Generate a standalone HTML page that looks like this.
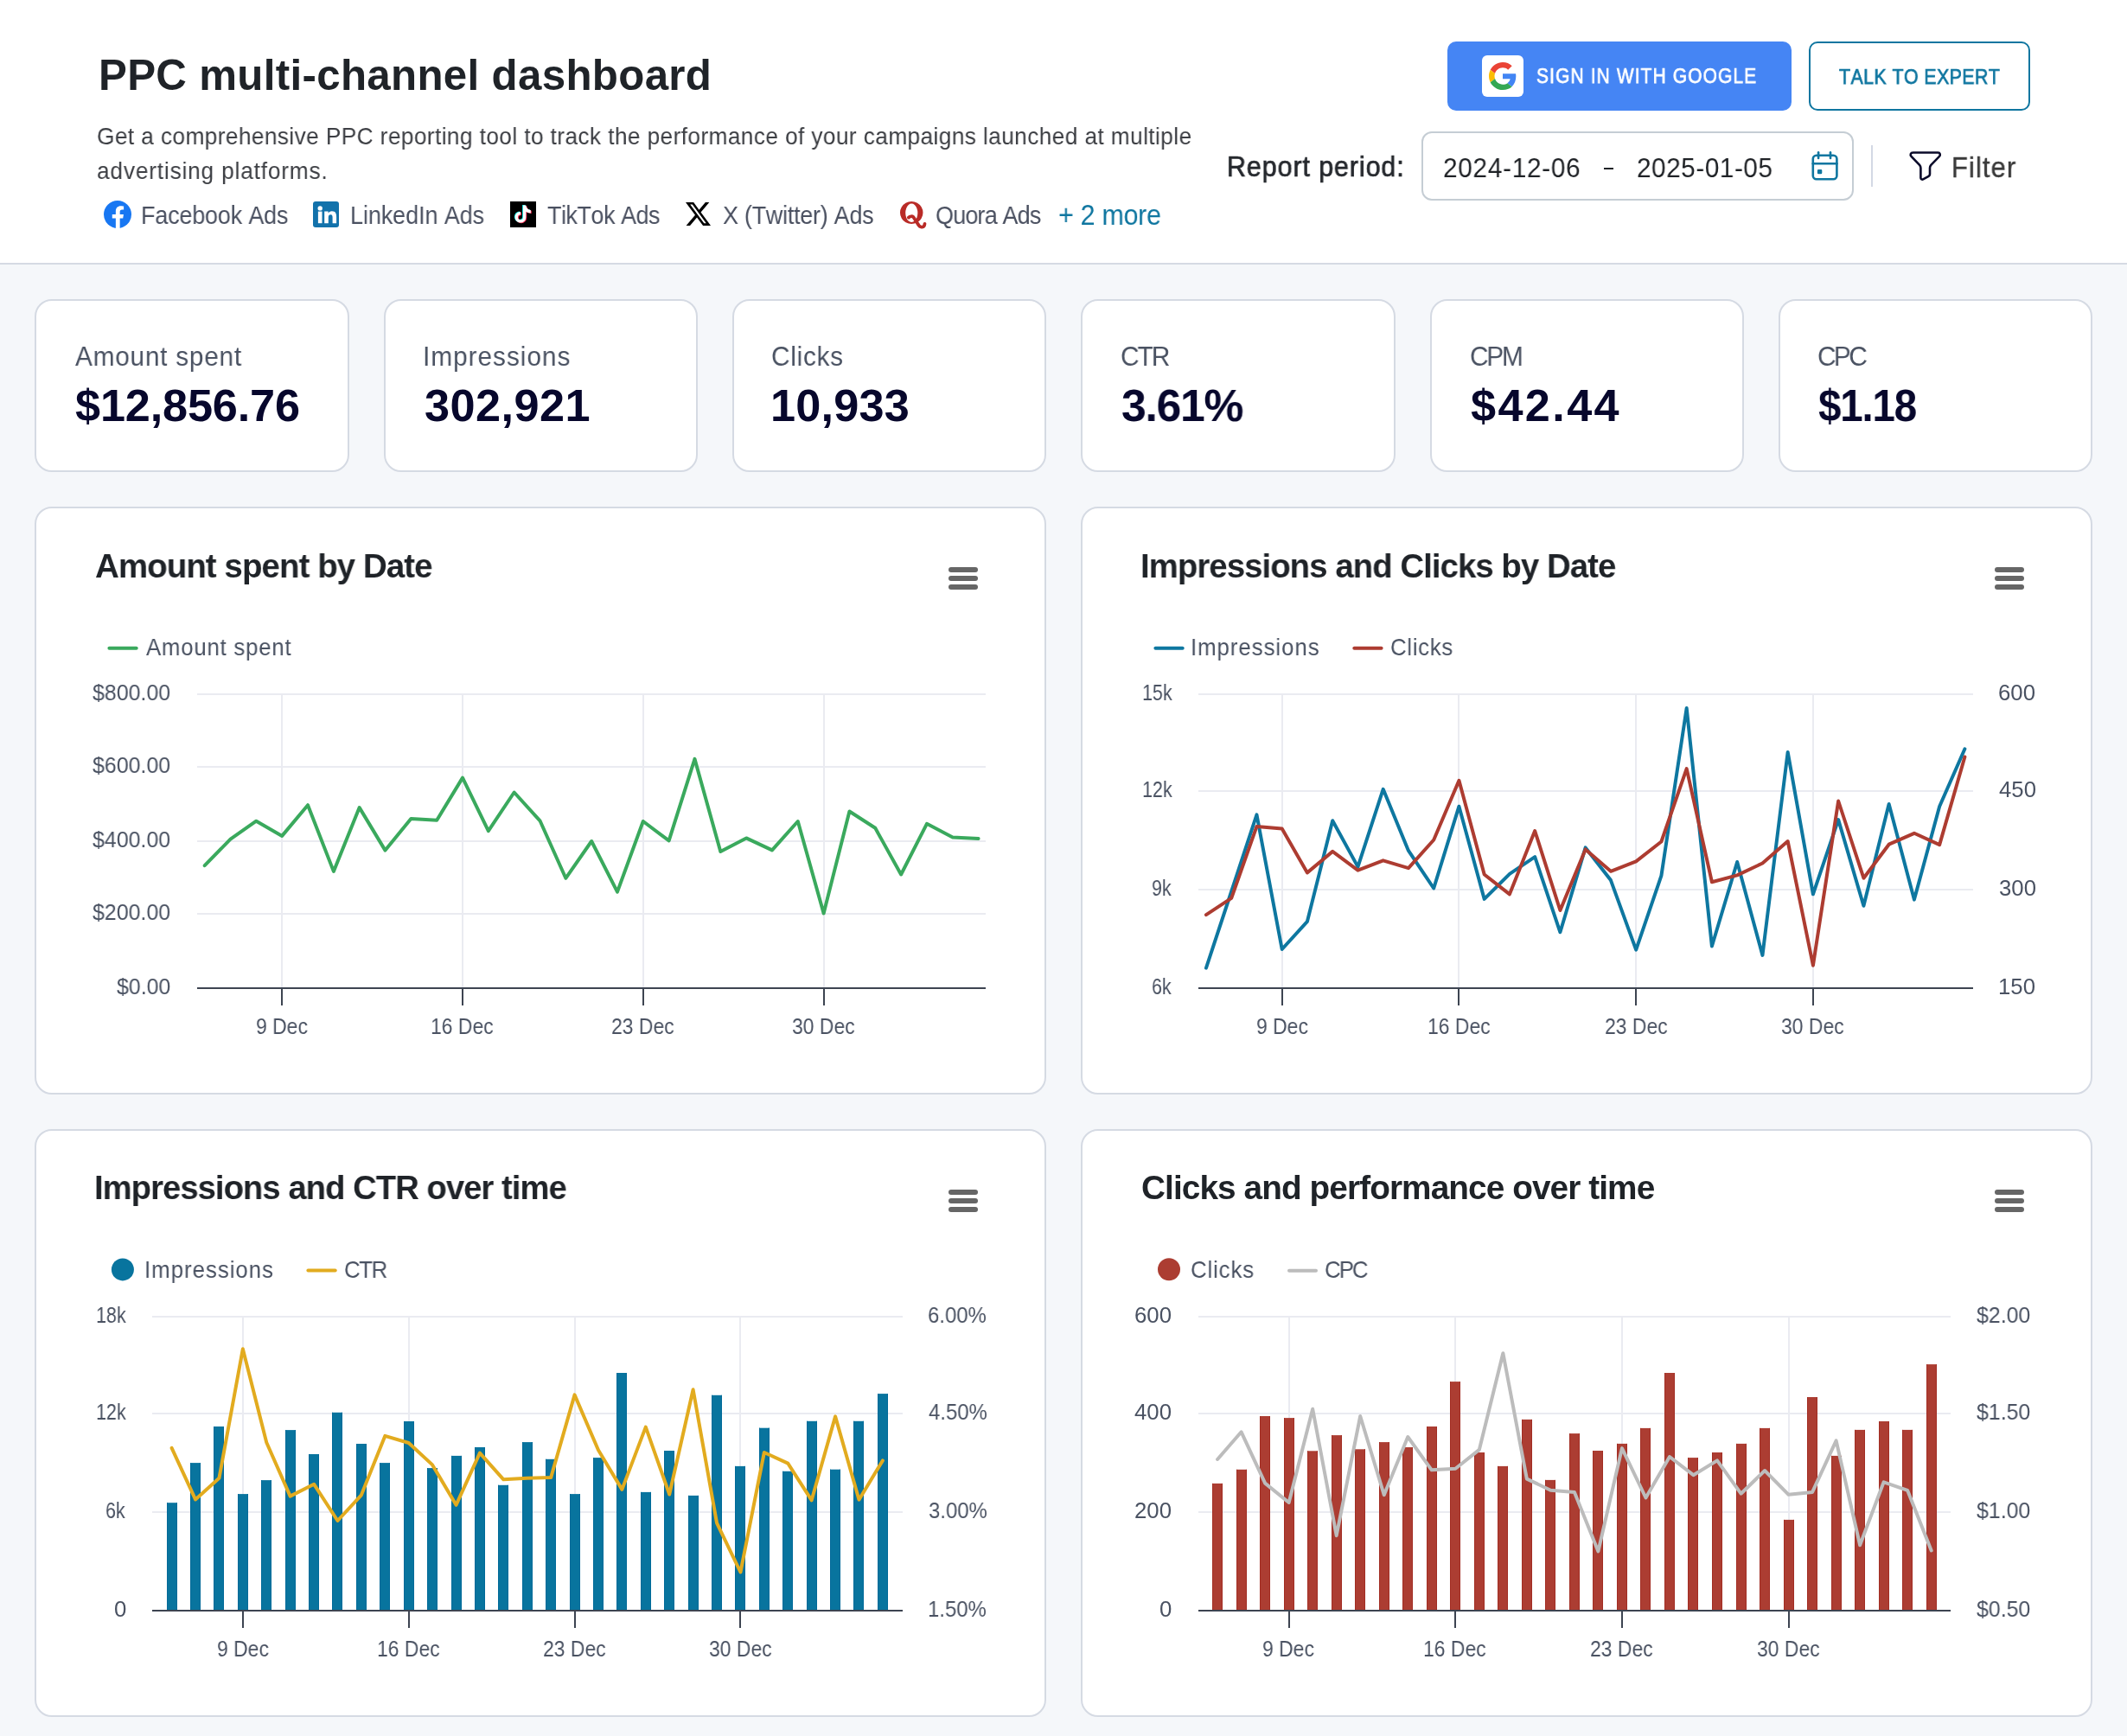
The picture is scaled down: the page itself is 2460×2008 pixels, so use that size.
<!DOCTYPE html>
<html><head><meta charset="utf-8"><title>PPC multi-channel dashboard</title>
<style>
html,body{margin:0;padding:0;}
body{width:2460px;height:2008px;overflow:hidden;background:#f5f7fa;position:relative;font-family:"Liberation Sans",sans-serif;}
.t{position:absolute;white-space:pre;will-change:transform;font-family:"Liberation Sans",sans-serif;font-kerning:none;}
.hdr{position:absolute;left:0;top:0;width:2460px;height:304px;background:#fff;border-bottom:2px solid #d5dae3;}
.card{position:absolute;background:#fff;border:2px solid #d5dae3;border-radius:20px;box-sizing:border-box;}
.abs{position:absolute;}
@media (max-width:1500px){body{zoom:0.5;}}
</style></head>
<body>
<div class="hdr"></div>
<!-- KPI cards -->
<div class="card" style="left:40px;top:346px;width:364px;height:200px"></div>
<div class="card" style="left:444px;top:346px;width:363px;height:200px"></div>
<div class="card" style="left:847px;top:346px;width:363px;height:200px"></div>
<div class="card" style="left:1250px;top:346px;width:364px;height:200px"></div>
<div class="card" style="left:1654px;top:346px;width:363px;height:200px"></div>
<div class="card" style="left:2057px;top:346px;width:363px;height:200px"></div>
<!-- chart cards -->
<div class="card" style="left:40px;top:586px;width:1170px;height:680px"></div>
<div class="card" style="left:1250px;top:586px;width:1170px;height:680px"></div>
<div class="card" style="left:40px;top:1306px;width:1170px;height:680px"></div>
<div class="card" style="left:1250px;top:1306px;width:1170px;height:680px"></div>

<!-- buttons -->
<div class="abs" style="left:1674px;top:48px;width:398px;height:80px;background:#4585f4;border-radius:10px"></div>
<div class="abs" style="left:1714px;top:64px;width:48px;height:48px;background:#fff;border-radius:6px"></div>
<svg class="abs" style="left:1722px;top:72px" width="32" height="32" viewBox="0 0 48 48">
<path fill="#EA4335" d="M24 9.5c3.54 0 6.71 1.22 9.21 3.6l6.85-6.85C35.9 2.38 30.47 0 24 0 14.62 0 6.51 5.38 2.56 13.22l7.98 6.19C12.43 13.72 17.74 9.5 24 9.5z"/>
<path fill="#4285F4" d="M46.98 24.55c0-1.570-.15-3.09-.38-4.55H24v9.02h12.94c-.58 2.96-2.26 5.480-4.78 7.18l7.73 6c4.51-4.18 7.09-10.36 7.09-17.65z"/>
<path fill="#FBBC05" d="M10.53 28.59c-.48-1.45-.76-2.99-.76-4.59s.27-3.14.76-4.59l-7.98-6.19C.92 16.46 0 20.12 0 24c0 3.88.92 7.54 2.56 10.78l7.97-6.19z"/>
<path fill="#34A853" d="M24 48c6.48 0 11.930-2.13 15.89-5.81l-7.73-6c-2.15 1.45-4.92 2.3-8.16 2.3-6.26 0-11.57-4.22-13.47-9.91l-7.98 6.190C6.51 42.62 14.62 48 24 48z"/>
</svg>
<div class="abs" style="left:2092px;top:48px;width:256px;height:80px;border:2px solid #0f76a0;border-radius:10px;box-sizing:border-box"></div>
<!-- date box -->
<div class="abs" style="left:1644px;top:152px;width:500px;height:80px;border:2px solid #c5cdd4;border-radius:12px;box-sizing:border-box;background:#fff"></div>
<div class="abs" style="left:1855px;top:193.5px;width:11px;height:2px;background:#1f2226"></div>
<svg class="abs" style="left:2094px;top:174px" width="34" height="36" viewBox="0 0 34 36" fill="none" stroke="#0f76a0" stroke-width="2.6" stroke-linecap="round">
<rect x="2.8" y="5.8" width="27.6" height="27.4" rx="4"/>
<line x1="2.8" y1="15.3" x2="30.4" y2="15.3"/>
<line x1="9.1" y1="2.3" x2="9.1" y2="9"/>
<line x1="23" y1="2.3" x2="23" y2="9"/>
<rect x="8.6" y="22.6" width="4" height="4" fill="#0f76a0" stroke-width="1.4" rx="0.6"/>
</svg>
<div class="abs" style="left:2164px;top:168px;width:2px;height:48px;background:#d3d8e4"></div>
<svg class="abs" style="left:2204px;top:171px" width="44" height="42" viewBox="0 0 44 42" fill="none" stroke="#0b0b2a" stroke-width="2.6" stroke-linejoin="round">
<path d="M8.5 5.5 H37.5 C39.8 5.5 40.6 8.2 39 9.8 L29.3 19.9 C28.3 21 28 21.7 28 23.2 V30.6 C28 31.7 27.5 32.3 26.6 32.8 L20.2 36.4 C19 37 17.4 36.2 17.4 34.8 V23.2 C17.4 21.7 17.1 21 16.1 19.9 L6.5 9.8 C4.9 8.2 5.7 5.5 8.5 5.5 Z"/>
</svg>

<!-- platform icons -->
<svg class="abs" style="left:120px;top:232px" width="32" height="32" viewBox="0 0 36 36">
<circle cx="18" cy="18" r="18" fill="#1877f2"/>
<path d="M25 23.2l.8-5.2H21v-3.4c0-1.4.7-2.8 2.9-2.8H26V7.4S24.1 7 22.2 7c-4 0-6.6 2.4-6.6 6.8V18H11v5.2h4.6V36h5.4V23.2z" fill="#fff"/>
</svg>
<svg class="abs" style="left:362px;top:233px" width="30" height="30" viewBox="0 0 30 30">
<rect width="30" height="30" rx="3" fill="#1272ab"/>
<circle cx="8.2" cy="7.9" r="2.7" fill="#fff"/>
<rect x="5.9" y="11.6" width="4.6" height="13.6" fill="#fff"/>
<path d="M13.2 11.6h4.4v1.9c.7-1.2 2.2-2.3 4.3-2.3 4.4 0 5.2 2.9 5.2 6.7v7.3h-4.5v-6.4c0-1.6-.1-3.5-2.2-3.5-2.2 0-2.6 1.7-2.6 3.4v6.5h-4.6z" fill="#fff"/>
</svg>
<svg class="abs" style="left:590px;top:233px" width="30" height="30" viewBox="0 0 30 30">
<rect width="30" height="30" fill="#000"/>
<g transform="translate(-0.9,-0.6)"><path d="M15 4.6H18.3C18.6 7.6 20.6 9.8 23.8 10.1V13.4C21.8 13.4 19.8 12.8 18.3 11.7V18.3A6.3 6.3 0 1 1 12 12V15.3A3 3 0 1 0 15 18.3Z" fill="#25f4ee"/></g>
<g transform="translate(0.9,0.6)"><path d="M15 4.6H18.3C18.6 7.6 20.6 9.8 23.8 10.1V13.4C21.8 13.4 19.8 12.8 18.3 11.7V18.3A6.3 6.3 0 1 1 12 12V15.3A3 3 0 1 0 15 18.3Z" fill="#fe2c55"/></g>
<path d="M15 4.6H18.3C18.6 7.6 20.6 9.8 23.8 10.1V13.4C21.8 13.4 19.8 12.8 18.3 11.7V18.3A6.3 6.3 0 1 1 12 12V15.3A3 3 0 1 0 15 18.3Z" fill="#fff"/>
</svg>
<svg class="abs" style="left:792.7px;top:234px" width="29" height="27" viewBox="1.254 2.25 21.56 19.5" preserveAspectRatio="none">
<path d="M18.244 2.25h3.308l-7.227 8.26 8.502 11.24H16.17l-5.214-6.817L4.99 21.75H1.68l7.73-8.835L1.254 2.25H8.08l4.713 6.231zm-1.161 17.52h1.833L7.084 4.126H5.117z" fill="#000"/>
</svg>
<svg class="abs" style="left:1034px;top:226px" width="44" height="42" viewBox="0 0 44 42">
<path fill-rule="evenodd" fill="#b92b27" d="M20.25 7 A13.25 12.95 0 1 1 20.2 7 Z M20.25 9.6 A7.05 10.7 0 1 0 20.3 9.6 Z"/>
<path d="M16.9 25.6 C18.4 24 21 23.8 22.5 25.2 L28.6 34.6 C30 36.6 32.4 37.1 34 36.1 C35 35.4 35.4 34.2 35.5 32.8" fill="none" stroke="#b92b27" stroke-width="3.8" stroke-linecap="round" stroke-linejoin="round"/>
</svg>

<div class="t" style="left:113.61px;top:62.08px;font-size:49.25px;line-height:49.25px;letter-spacing:0.323px;font-weight:bold;color:#1f2328;">PPC multi-channel dashboard</div>
<div class="t" style="left:111.88px;top:142.68px;font-size:28.25px;line-height:28.25px;letter-spacing:0.419px;font-weight:normal;color:#3d3f44;transform:scaleX(0.9300);transform-origin:0 0;">Get a comprehensive PPC reporting tool to track the performance of your campaigns launched at multiple</div>
<div class="t" style="left:112.08px;top:182.57px;font-size:28.25px;line-height:28.25px;letter-spacing:0.872px;font-weight:normal;color:#3d3f44;transform:scaleX(0.9300);transform-origin:0 0;">advertising platforms.</div>
<div class="t" style="left:163.19px;top:234.60px;font-size:29.00px;line-height:29.00px;letter-spacing:-0.198px;font-weight:normal;color:#4a5060;transform:scaleX(0.9300);transform-origin:0 0;">Facebook Ads</div>
<div class="t" style="left:405.19px;top:234.60px;font-size:29.00px;line-height:29.00px;letter-spacing:-0.083px;font-weight:normal;color:#4a5060;transform:scaleX(0.9300);transform-origin:0 0;">LinkedIn Ads</div>
<div class="t" style="left:632.79px;top:234.60px;font-size:29.00px;line-height:29.00px;letter-spacing:-0.525px;font-weight:normal;color:#4a5060;transform:scaleX(0.9300);transform-origin:0 0;">TikTok Ads</div>
<div class="t" style="left:835.59px;top:234.60px;font-size:29.00px;line-height:29.00px;letter-spacing:-0.287px;font-weight:normal;color:#4a5060;transform:scaleX(0.9300);transform-origin:0 0;">X (Twitter) Ads</div>
<div class="t" style="left:1081.72px;top:234.60px;font-size:29.00px;line-height:29.00px;letter-spacing:-0.897px;font-weight:normal;color:#4a5060;transform:scaleX(0.9300);transform-origin:0 0;">Quora Ads</div>
<div class="t" style="left:1223.81px;top:233.12px;font-size:32.75px;line-height:32.75px;letter-spacing:-0.323px;font-weight:normal;color:#0f76a0;transform:scaleX(0.9300);transform-origin:0 0;">+ 2 more</div>
<div class="t" style="left:1777.05px;top:76.28px;font-size:24.25px;line-height:24.25px;letter-spacing:1.372px;font-weight:normal;color:#ffffff;transform:scaleX(0.8600);transform-origin:0 0;-webkit-text-stroke:0.75px #ffffff;">SIGN IN WITH GOOGLE</div>
<div class="t" style="left:2126.62px;top:76.72px;font-size:24.75px;line-height:24.75px;letter-spacing:0.544px;font-weight:normal;color:#0f76a0;transform:scaleX(0.8600);transform-origin:0 0;-webkit-text-stroke:0.75px #0f76a0;">TALK TO EXPERT</div>
<div class="t" style="left:1419.10px;top:177.03px;font-size:32.75px;line-height:32.75px;letter-spacing:0.966px;font-weight:normal;color:#25282d;transform:scaleX(0.9300);transform-origin:0 0;-webkit-text-stroke:0.7px #25282d;">Report period:</div>
<div class="t" style="left:1669.30px;top:177.90px;font-size:32.00px;line-height:32.00px;letter-spacing:0.762px;font-weight:normal;color:#1f2226;transform:scaleX(0.9300);transform-origin:0 0;">2024-12-06</div>
<div class="t" style="left:1893.20px;top:177.90px;font-size:32.00px;line-height:32.00px;letter-spacing:0.564px;font-weight:normal;color:#1f2226;transform:scaleX(0.9300);transform-origin:0 0;">2025-01-05</div>
<div class="t" style="left:2257.36px;top:176.78px;font-size:33.25px;line-height:33.25px;letter-spacing:1.169px;font-weight:normal;color:#3a3a3a;transform:scaleX(0.9300);transform-origin:0 0;-webkit-text-stroke:0.4px #3a3a3a;">Filter</div>
<div class="t" style="left:86.84px;top:395.60px;font-size:32.00px;line-height:32.00px;letter-spacing:0.825px;font-weight:normal;color:#4a5262;transform:scaleX(0.9300);transform-origin:0 0;">Amount spent</div>
<div class="t" style="left:86.91px;top:443.07px;font-size:52.25px;line-height:52.25px;letter-spacing:-0.170px;font-weight:bold;color:#07072c;">$12,856.76</div>
<div class="t" style="left:489.05px;top:395.60px;font-size:32.00px;line-height:32.00px;letter-spacing:1.064px;font-weight:normal;color:#4a5262;transform:scaleX(0.9300);transform-origin:0 0;">Impressions</div>
<div class="t" style="left:490.60px;top:443.07px;font-size:52.25px;line-height:52.25px;letter-spacing:0.464px;font-weight:bold;color:#07072c;">302,921</div>
<div class="t" style="left:891.79px;top:395.60px;font-size:32.00px;line-height:32.00px;letter-spacing:0.781px;font-weight:normal;color:#4a5262;transform:scaleX(0.9300);transform-origin:0 0;">Clicks</div>
<div class="t" style="left:890.81px;top:443.07px;font-size:52.25px;line-height:52.25px;letter-spacing:0.214px;font-weight:bold;color:#07072c;">10,933</div>
<div class="t" style="left:1295.99px;top:395.60px;font-size:32.00px;line-height:32.00px;letter-spacing:-2.081px;font-weight:normal;color:#4a5262;transform:scaleX(0.9300);transform-origin:0 0;">CTR</div>
<div class="t" style="left:1297.11px;top:443.07px;font-size:52.25px;line-height:52.25px;letter-spacing:-1.306px;font-weight:bold;color:#07072c;transform:scaleX(0.9890);transform-origin:0 0;">3.61%</div>
<div class="t" style="left:1700.19px;top:395.60px;font-size:32.00px;line-height:32.00px;letter-spacing:-2.354px;font-weight:normal;color:#4a5262;transform:scaleX(0.9300);transform-origin:0 0;">CPM</div>
<div class="t" style="left:1701.01px;top:443.07px;font-size:52.25px;line-height:52.25px;letter-spacing:2.372px;font-weight:bold;color:#07072c;">$42.44</div>
<div class="t" style="left:2101.69px;top:395.60px;font-size:32.00px;line-height:32.00px;letter-spacing:-2.789px;font-weight:normal;color:#4a5262;transform:scaleX(0.9300);transform-origin:0 0;">CPC</div>
<div class="t" style="left:2103.37px;top:443.07px;font-size:52.25px;line-height:52.25px;letter-spacing:-1.306px;font-weight:bold;color:#07072c;transform:scaleX(0.9089);transform-origin:0 0;">$1.18</div>
<div class="t" style="left:110.24px;top:635.62px;font-size:38.75px;line-height:38.75px;letter-spacing:-0.969px;font-weight:bold;color:#1f2328;transform:scaleX(0.9941);transform-origin:0 0;">Amount spent by Date</div>
<div class="t" style="left:1318.63px;top:635.62px;font-size:38.75px;line-height:38.75px;letter-spacing:-0.969px;font-weight:bold;color:#1f2328;transform:scaleX(0.9906);transform-origin:0 0;">Impressions and Clicks by Date</div>
<div class="t" style="left:108.94px;top:1355.42px;font-size:38.75px;line-height:38.75px;letter-spacing:-0.969px;font-weight:bold;color:#1f2328;transform:scaleX(0.9864);transform-origin:0 0;">Impressions and CTR over time</div>
<div class="t" style="left:1319.51px;top:1355.42px;font-size:38.75px;line-height:38.75px;letter-spacing:-0.909px;font-weight:bold;color:#1f2328;">Clicks and performance over time</div>
<div class="t" style="left:169.15px;top:734.62px;font-size:27.75px;line-height:27.75px;letter-spacing:0.821px;font-weight:normal;color:#4a5262;transform:scaleX(0.9300);transform-origin:0 0;">Amount spent</div>
<div class="t" style="left:1377.12px;top:734.62px;font-size:27.75px;line-height:27.75px;letter-spacing:1.021px;font-weight:normal;color:#4a5262;transform:scaleX(0.9300);transform-origin:0 0;">Impressions</div>
<div class="t" style="left:1608.09px;top:734.62px;font-size:27.75px;line-height:27.75px;letter-spacing:0.737px;font-weight:normal;color:#4a5262;transform:scaleX(0.9300);transform-origin:0 0;">Clicks</div>
<div class="t" style="left:167.02px;top:1454.92px;font-size:27.75px;line-height:27.75px;letter-spacing:1.064px;font-weight:normal;color:#4a5262;transform:scaleX(0.9300);transform-origin:0 0;">Impressions</div>
<div class="t" style="left:397.89px;top:1454.92px;font-size:27.75px;line-height:27.75px;letter-spacing:-1.468px;font-weight:normal;color:#4a5262;transform:scaleX(0.9300);transform-origin:0 0;">CTR</div>
<div class="t" style="left:1377.49px;top:1454.92px;font-size:27.75px;line-height:27.75px;letter-spacing:0.909px;font-weight:normal;color:#4a5262;transform:scaleX(0.9300);transform-origin:0 0;">Clicks</div>
<div class="t" style="left:1532.49px;top:1454.92px;font-size:27.75px;line-height:27.75px;letter-spacing:-2.148px;font-weight:normal;color:#4a5262;transform:scaleX(0.9300);transform-origin:0 0;">CPC</div>
<div class="t" style="left:107.27px;top:788.92px;font-size:25.75px;line-height:25.75px;letter-spacing:0.000px;font-weight:normal;color:#4a5262;transform:scaleX(0.9680);transform-origin:0 0;">$800.00</div>
<div class="t" style="left:107.27px;top:872.92px;font-size:25.75px;line-height:25.75px;letter-spacing:0.000px;font-weight:normal;color:#4a5262;transform:scaleX(0.9680);transform-origin:0 0;">$600.00</div>
<div class="t" style="left:107.27px;top:958.92px;font-size:25.75px;line-height:25.75px;letter-spacing:0.000px;font-weight:normal;color:#4a5262;transform:scaleX(0.9680);transform-origin:0 0;">$400.00</div>
<div class="t" style="left:107.27px;top:1042.92px;font-size:25.75px;line-height:25.75px;letter-spacing:0.000px;font-weight:normal;color:#4a5262;transform:scaleX(0.9680);transform-origin:0 0;">$200.00</div>
<div class="t" style="left:135.00px;top:1128.92px;font-size:25.75px;line-height:25.75px;letter-spacing:0.000px;font-weight:normal;color:#4a5262;transform:scaleX(0.9680);transform-origin:0 0;">$0.00</div>
<div class="t" style="left:1320.54px;top:788.92px;font-size:25.75px;line-height:25.75px;letter-spacing:0.000px;font-weight:normal;color:#4a5262;transform:scaleX(0.8340);transform-origin:0 0;">15k</div>
<div class="t" style="left:1320.54px;top:900.92px;font-size:25.75px;line-height:25.75px;letter-spacing:0.000px;font-weight:normal;color:#4a5262;transform:scaleX(0.8340);transform-origin:0 0;">12k</div>
<div class="t" style="left:1332.49px;top:1014.92px;font-size:25.75px;line-height:25.75px;letter-spacing:0.000px;font-weight:normal;color:#4a5262;transform:scaleX(0.8340);transform-origin:0 0;">9k</div>
<div class="t" style="left:1332.49px;top:1128.92px;font-size:25.75px;line-height:25.75px;letter-spacing:0.000px;font-weight:normal;color:#4a5262;transform:scaleX(0.8340);transform-origin:0 0;">6k</div>
<div class="t" style="left:2311.29px;top:788.92px;font-size:25.75px;line-height:25.75px;letter-spacing:0.000px;font-weight:normal;color:#4a5262;">600</div>
<div class="t" style="left:2312.01px;top:900.92px;font-size:25.75px;line-height:25.75px;letter-spacing:0.000px;font-weight:normal;color:#4a5262;">450</div>
<div class="t" style="left:2311.62px;top:1014.92px;font-size:25.75px;line-height:25.75px;letter-spacing:0.000px;font-weight:normal;color:#4a5262;">300</div>
<div class="t" style="left:2310.64px;top:1128.92px;font-size:25.75px;line-height:25.75px;letter-spacing:0.000px;font-weight:normal;color:#4a5262;">150</div>
<div class="t" style="left:110.54px;top:1508.92px;font-size:25.75px;line-height:25.75px;letter-spacing:0.000px;font-weight:normal;color:#4a5262;transform:scaleX(0.8340);transform-origin:0 0;">18k</div>
<div class="t" style="left:110.54px;top:1620.92px;font-size:25.75px;line-height:25.75px;letter-spacing:0.000px;font-weight:normal;color:#4a5262;transform:scaleX(0.8340);transform-origin:0 0;">12k</div>
<div class="t" style="left:122.49px;top:1734.92px;font-size:25.75px;line-height:25.75px;letter-spacing:0.000px;font-weight:normal;color:#4a5262;transform:scaleX(0.8340);transform-origin:0 0;">6k</div>
<div class="t" style="left:131.88px;top:1848.92px;font-size:25.75px;line-height:25.75px;letter-spacing:0.000px;font-weight:normal;color:#4a5262;">0</div>
<div class="t" style="left:1073.38px;top:1508.92px;font-size:25.75px;line-height:25.75px;letter-spacing:-0.000px;font-weight:normal;color:#4a5262;transform:scaleX(0.9300);transform-origin:0 0;">6.00%</div>
<div class="t" style="left:1074.05px;top:1620.92px;font-size:25.75px;line-height:25.75px;letter-spacing:0.000px;font-weight:normal;color:#4a5262;transform:scaleX(0.9300);transform-origin:0 0;">4.50%</div>
<div class="t" style="left:1073.69px;top:1734.92px;font-size:25.75px;line-height:25.75px;letter-spacing:0.000px;font-weight:normal;color:#4a5262;transform:scaleX(0.9300);transform-origin:0 0;">3.00%</div>
<div class="t" style="left:1072.78px;top:1848.92px;font-size:25.75px;line-height:25.75px;letter-spacing:-0.000px;font-weight:normal;color:#4a5262;transform:scaleX(0.9300);transform-origin:0 0;">1.50%</div>
<div class="t" style="left:1312.44px;top:1508.92px;font-size:25.75px;line-height:25.75px;letter-spacing:0.000px;font-weight:normal;color:#4a5262;">600</div>
<div class="t" style="left:1312.44px;top:1620.92px;font-size:25.75px;line-height:25.75px;letter-spacing:0.000px;font-weight:normal;color:#4a5262;">400</div>
<div class="t" style="left:1312.44px;top:1734.92px;font-size:25.75px;line-height:25.75px;letter-spacing:0.000px;font-weight:normal;color:#4a5262;">200</div>
<div class="t" style="left:1341.08px;top:1848.92px;font-size:25.75px;line-height:25.75px;letter-spacing:0.000px;font-weight:normal;color:#4a5262;">0</div>
<div class="t" style="left:2286.43px;top:1508.92px;font-size:25.75px;line-height:25.75px;letter-spacing:0.000px;font-weight:normal;color:#4a5262;transform:scaleX(0.9680);transform-origin:0 0;">$2.00</div>
<div class="t" style="left:2286.43px;top:1620.92px;font-size:25.75px;line-height:25.75px;letter-spacing:0.000px;font-weight:normal;color:#4a5262;transform:scaleX(0.9680);transform-origin:0 0;">$1.50</div>
<div class="t" style="left:2286.43px;top:1734.92px;font-size:25.75px;line-height:25.75px;letter-spacing:0.000px;font-weight:normal;color:#4a5262;transform:scaleX(0.9680);transform-origin:0 0;">$1.00</div>
<div class="t" style="left:2286.43px;top:1848.92px;font-size:25.75px;line-height:25.75px;letter-spacing:0.000px;font-weight:normal;color:#4a5262;transform:scaleX(0.9680);transform-origin:0 0;">$0.50</div>
<div class="t" style="left:296.02px;top:1175.03px;font-size:25.75px;line-height:25.75px;letter-spacing:0.000px;font-weight:normal;color:#4a5262;transform:scaleX(0.8900);transform-origin:0 0;">9 Dec</div>
<div class="t" style="left:498.12px;top:1175.03px;font-size:25.75px;line-height:25.75px;letter-spacing:-0.000px;font-weight:normal;color:#4a5262;transform:scaleX(0.8900);transform-origin:0 0;">16 Dec</div>
<div class="t" style="left:707.23px;top:1175.03px;font-size:25.75px;line-height:25.75px;letter-spacing:0.000px;font-weight:normal;color:#4a5262;transform:scaleX(0.8900);transform-origin:0 0;">23 Dec</div>
<div class="t" style="left:916.18px;top:1175.03px;font-size:25.75px;line-height:25.75px;letter-spacing:0.000px;font-weight:normal;color:#4a5262;transform:scaleX(0.8900);transform-origin:0 0;">30 Dec</div>
<div class="t" style="left:1452.54px;top:1175.03px;font-size:25.75px;line-height:25.75px;letter-spacing:0.000px;font-weight:normal;color:#4a5262;transform:scaleX(0.8900);transform-origin:0 0;">9 Dec</div>
<div class="t" style="left:1650.56px;top:1175.03px;font-size:25.75px;line-height:25.75px;letter-spacing:-0.000px;font-weight:normal;color:#4a5262;transform:scaleX(0.8900);transform-origin:0 0;">16 Dec</div>
<div class="t" style="left:1855.60px;top:1175.03px;font-size:25.75px;line-height:25.75px;letter-spacing:-0.000px;font-weight:normal;color:#4a5262;transform:scaleX(0.8900);transform-origin:0 0;">23 Dec</div>
<div class="t" style="left:2060.47px;top:1175.03px;font-size:25.75px;line-height:25.75px;letter-spacing:0.000px;font-weight:normal;color:#4a5262;transform:scaleX(0.8900);transform-origin:0 0;">30 Dec</div>
<div class="t" style="left:250.66px;top:1894.72px;font-size:25.75px;line-height:25.75px;letter-spacing:0.000px;font-weight:normal;color:#4a5262;transform:scaleX(0.8900);transform-origin:0 0;">9 Dec</div>
<div class="t" style="left:435.82px;top:1894.72px;font-size:25.75px;line-height:25.75px;letter-spacing:0.000px;font-weight:normal;color:#4a5262;transform:scaleX(0.8900);transform-origin:0 0;">16 Dec</div>
<div class="t" style="left:627.99px;top:1894.72px;font-size:25.75px;line-height:25.75px;letter-spacing:0.000px;font-weight:normal;color:#4a5262;transform:scaleX(0.8900);transform-origin:0 0;">23 Dec</div>
<div class="t" style="left:820.00px;top:1894.72px;font-size:25.75px;line-height:25.75px;letter-spacing:0.000px;font-weight:normal;color:#4a5262;transform:scaleX(0.8900);transform-origin:0 0;">30 Dec</div>
<div class="t" style="left:1460.49px;top:1894.72px;font-size:25.75px;line-height:25.75px;letter-spacing:0.000px;font-weight:normal;color:#4a5262;transform:scaleX(0.8900);transform-origin:0 0;">9 Dec</div>
<div class="t" style="left:1646.42px;top:1894.72px;font-size:25.75px;line-height:25.75px;letter-spacing:-0.000px;font-weight:normal;color:#4a5262;transform:scaleX(0.8900);transform-origin:0 0;">16 Dec</div>
<div class="t" style="left:1839.36px;top:1894.72px;font-size:25.75px;line-height:25.75px;letter-spacing:-0.000px;font-weight:normal;color:#4a5262;transform:scaleX(0.8900);transform-origin:0 0;">23 Dec</div>
<div class="t" style="left:2032.14px;top:1894.72px;font-size:25.75px;line-height:25.75px;letter-spacing:-0.000px;font-weight:normal;color:#4a5262;transform:scaleX(0.8900);transform-origin:0 0;">30 Dec</div>
<svg class="abs" style="left:0;top:0" width="2460" height="2008" viewBox="0 0 2460 2008">
<line x1="228.0" y1="803.00" x2="1140.0" y2="803.00" stroke="#eaebf1" stroke-width="2"/>
<line x1="228.0" y1="887.00" x2="1140.0" y2="887.00" stroke="#eaebf1" stroke-width="2"/>
<line x1="228.0" y1="973.00" x2="1140.0" y2="973.00" stroke="#eaebf1" stroke-width="2"/>
<line x1="228.0" y1="1057.00" x2="1140.0" y2="1057.00" stroke="#eaebf1" stroke-width="2"/>
<line x1="326.00" y1="803.00" x2="326.00" y2="1143.00" stroke="#eaebf1" stroke-width="2"/>
<line x1="535.00" y1="803.00" x2="535.00" y2="1143.00" stroke="#eaebf1" stroke-width="2"/>
<line x1="744.00" y1="803.00" x2="744.00" y2="1143.00" stroke="#eaebf1" stroke-width="2"/>
<line x1="953.00" y1="803.00" x2="953.00" y2="1143.00" stroke="#eaebf1" stroke-width="2"/>
<line x1="1386.0" y1="803.00" x2="2282.0" y2="803.00" stroke="#eaebf1" stroke-width="2"/>
<line x1="1386.0" y1="915.00" x2="2282.0" y2="915.00" stroke="#eaebf1" stroke-width="2"/>
<line x1="1386.0" y1="1029.00" x2="2282.0" y2="1029.00" stroke="#eaebf1" stroke-width="2"/>
<line x1="1483.00" y1="803.00" x2="1483.00" y2="1143.00" stroke="#eaebf1" stroke-width="2"/>
<line x1="1687.00" y1="803.00" x2="1687.00" y2="1143.00" stroke="#eaebf1" stroke-width="2"/>
<line x1="1892.00" y1="803.00" x2="1892.00" y2="1143.00" stroke="#eaebf1" stroke-width="2"/>
<line x1="2097.00" y1="803.00" x2="2097.00" y2="1143.00" stroke="#eaebf1" stroke-width="2"/>
<line x1="176.0" y1="1523.00" x2="1044.0" y2="1523.00" stroke="#eaebf1" stroke-width="2"/>
<line x1="176.0" y1="1635.00" x2="1044.0" y2="1635.00" stroke="#eaebf1" stroke-width="2"/>
<line x1="176.0" y1="1749.00" x2="1044.0" y2="1749.00" stroke="#eaebf1" stroke-width="2"/>
<line x1="281.00" y1="1523.00" x2="281.00" y2="1863.00" stroke="#eaebf1" stroke-width="2"/>
<line x1="473.00" y1="1523.00" x2="473.00" y2="1863.00" stroke="#eaebf1" stroke-width="2"/>
<line x1="665.00" y1="1523.00" x2="665.00" y2="1863.00" stroke="#eaebf1" stroke-width="2"/>
<line x1="856.00" y1="1523.00" x2="856.00" y2="1863.00" stroke="#eaebf1" stroke-width="2"/>
<line x1="1386.0" y1="1523.00" x2="2256.0" y2="1523.00" stroke="#eaebf1" stroke-width="2"/>
<line x1="1386.0" y1="1635.00" x2="2256.0" y2="1635.00" stroke="#eaebf1" stroke-width="2"/>
<line x1="1386.0" y1="1749.00" x2="2256.0" y2="1749.00" stroke="#eaebf1" stroke-width="2"/>
<line x1="1491.00" y1="1523.00" x2="1491.00" y2="1863.00" stroke="#eaebf1" stroke-width="2"/>
<line x1="1683.00" y1="1523.00" x2="1683.00" y2="1863.00" stroke="#eaebf1" stroke-width="2"/>
<line x1="1876.00" y1="1523.00" x2="1876.00" y2="1863.00" stroke="#eaebf1" stroke-width="2"/>
<line x1="2069.00" y1="1523.00" x2="2069.00" y2="1863.00" stroke="#eaebf1" stroke-width="2"/>
<rect x="193" y="1738.20" width="12" height="124.80" fill="#08749e"/>
<rect x="193" y="1738.20" width="1" height="124.80" fill="#016a99"/>
<rect x="204" y="1738.20" width="1" height="124.80" fill="#016a99"/>
<rect x="220" y="1692.10" width="12" height="170.90" fill="#08749e"/>
<rect x="220" y="1692.10" width="1" height="170.90" fill="#016a99"/>
<rect x="231" y="1692.10" width="1" height="170.90" fill="#016a99"/>
<rect x="247" y="1650.00" width="12" height="213.00" fill="#08749e"/>
<rect x="247" y="1650.00" width="1" height="213.00" fill="#016a99"/>
<rect x="258" y="1650.00" width="1" height="213.00" fill="#016a99"/>
<rect x="275" y="1728.10" width="12" height="134.90" fill="#08749e"/>
<rect x="275" y="1728.10" width="1" height="134.90" fill="#016a99"/>
<rect x="286" y="1728.10" width="1" height="134.90" fill="#016a99"/>
<rect x="302" y="1712.10" width="12" height="150.90" fill="#08749e"/>
<rect x="302" y="1712.10" width="1" height="150.90" fill="#016a99"/>
<rect x="313" y="1712.10" width="1" height="150.90" fill="#016a99"/>
<rect x="330" y="1654.10" width="12" height="208.90" fill="#08749e"/>
<rect x="330" y="1654.10" width="1" height="208.90" fill="#016a99"/>
<rect x="341" y="1654.10" width="1" height="208.90" fill="#016a99"/>
<rect x="357" y="1682.00" width="12" height="181.00" fill="#08749e"/>
<rect x="357" y="1682.00" width="1" height="181.00" fill="#016a99"/>
<rect x="368" y="1682.00" width="1" height="181.00" fill="#016a99"/>
<rect x="384" y="1633.80" width="12" height="229.20" fill="#08749e"/>
<rect x="384" y="1633.80" width="1" height="229.20" fill="#016a99"/>
<rect x="395" y="1633.80" width="1" height="229.20" fill="#016a99"/>
<rect x="412" y="1670.00" width="12" height="193.00" fill="#08749e"/>
<rect x="412" y="1670.00" width="1" height="193.00" fill="#016a99"/>
<rect x="423" y="1670.00" width="1" height="193.00" fill="#016a99"/>
<rect x="439" y="1692.10" width="12" height="170.90" fill="#08749e"/>
<rect x="439" y="1692.10" width="1" height="170.90" fill="#016a99"/>
<rect x="450" y="1692.10" width="1" height="170.90" fill="#016a99"/>
<rect x="467" y="1644.00" width="12" height="219.00" fill="#08749e"/>
<rect x="467" y="1644.00" width="1" height="219.00" fill="#016a99"/>
<rect x="478" y="1644.00" width="1" height="219.00" fill="#016a99"/>
<rect x="494" y="1698.10" width="12" height="164.90" fill="#08749e"/>
<rect x="494" y="1698.10" width="1" height="164.90" fill="#016a99"/>
<rect x="505" y="1698.10" width="1" height="164.90" fill="#016a99"/>
<rect x="522" y="1683.90" width="12" height="179.10" fill="#08749e"/>
<rect x="522" y="1683.90" width="1" height="179.10" fill="#016a99"/>
<rect x="533" y="1683.90" width="1" height="179.10" fill="#016a99"/>
<rect x="549" y="1674.00" width="12" height="189.00" fill="#08749e"/>
<rect x="549" y="1674.00" width="1" height="189.00" fill="#016a99"/>
<rect x="560" y="1674.00" width="1" height="189.00" fill="#016a99"/>
<rect x="576" y="1717.80" width="12" height="145.20" fill="#08749e"/>
<rect x="576" y="1717.80" width="1" height="145.20" fill="#016a99"/>
<rect x="587" y="1717.80" width="1" height="145.20" fill="#016a99"/>
<rect x="604" y="1668.10" width="12" height="194.90" fill="#08749e"/>
<rect x="604" y="1668.10" width="1" height="194.90" fill="#016a99"/>
<rect x="615" y="1668.10" width="1" height="194.90" fill="#016a99"/>
<rect x="631" y="1687.80" width="12" height="175.20" fill="#08749e"/>
<rect x="631" y="1687.80" width="1" height="175.20" fill="#016a99"/>
<rect x="642" y="1687.80" width="1" height="175.20" fill="#016a99"/>
<rect x="659" y="1728.10" width="12" height="134.90" fill="#08749e"/>
<rect x="659" y="1728.10" width="1" height="134.90" fill="#016a99"/>
<rect x="670" y="1728.10" width="1" height="134.90" fill="#016a99"/>
<rect x="686" y="1686.10" width="12" height="176.90" fill="#08749e"/>
<rect x="686" y="1686.10" width="1" height="176.90" fill="#016a99"/>
<rect x="697" y="1686.10" width="1" height="176.90" fill="#016a99"/>
<rect x="713" y="1588.00" width="12" height="275.00" fill="#08749e"/>
<rect x="713" y="1588.00" width="1" height="275.00" fill="#016a99"/>
<rect x="724" y="1588.00" width="1" height="275.00" fill="#016a99"/>
<rect x="741" y="1725.90" width="12" height="137.10" fill="#08749e"/>
<rect x="741" y="1725.90" width="1" height="137.10" fill="#016a99"/>
<rect x="752" y="1725.90" width="1" height="137.10" fill="#016a99"/>
<rect x="768" y="1678.00" width="12" height="185.00" fill="#08749e"/>
<rect x="768" y="1678.00" width="1" height="185.00" fill="#016a99"/>
<rect x="779" y="1678.00" width="1" height="185.00" fill="#016a99"/>
<rect x="796" y="1729.90" width="12" height="133.10" fill="#08749e"/>
<rect x="796" y="1729.90" width="1" height="133.10" fill="#016a99"/>
<rect x="807" y="1729.90" width="1" height="133.10" fill="#016a99"/>
<rect x="823" y="1613.80" width="12" height="249.20" fill="#08749e"/>
<rect x="823" y="1613.80" width="1" height="249.20" fill="#016a99"/>
<rect x="834" y="1613.80" width="1" height="249.20" fill="#016a99"/>
<rect x="850" y="1695.90" width="12" height="167.10" fill="#08749e"/>
<rect x="850" y="1695.90" width="1" height="167.10" fill="#016a99"/>
<rect x="861" y="1695.90" width="1" height="167.10" fill="#016a99"/>
<rect x="878" y="1651.70" width="12" height="211.30" fill="#08749e"/>
<rect x="878" y="1651.70" width="1" height="211.30" fill="#016a99"/>
<rect x="889" y="1651.70" width="1" height="211.30" fill="#016a99"/>
<rect x="905" y="1701.80" width="12" height="161.20" fill="#08749e"/>
<rect x="905" y="1701.80" width="1" height="161.20" fill="#016a99"/>
<rect x="916" y="1701.80" width="1" height="161.20" fill="#016a99"/>
<rect x="933" y="1643.80" width="12" height="219.20" fill="#08749e"/>
<rect x="933" y="1643.80" width="1" height="219.20" fill="#016a99"/>
<rect x="944" y="1643.80" width="1" height="219.20" fill="#016a99"/>
<rect x="960" y="1699.70" width="12" height="163.30" fill="#08749e"/>
<rect x="960" y="1699.70" width="1" height="163.30" fill="#016a99"/>
<rect x="971" y="1699.70" width="1" height="163.30" fill="#016a99"/>
<rect x="987" y="1643.80" width="12" height="219.20" fill="#08749e"/>
<rect x="987" y="1643.80" width="1" height="219.20" fill="#016a99"/>
<rect x="998" y="1643.80" width="1" height="219.20" fill="#016a99"/>
<rect x="1015" y="1612.10" width="12" height="250.90" fill="#08749e"/>
<rect x="1015" y="1612.10" width="1" height="250.90" fill="#016a99"/>
<rect x="1026" y="1612.10" width="1" height="250.90" fill="#016a99"/>
<rect x="1402" y="1715.90" width="12" height="147.10" fill="#ac3d32"/>
<rect x="1402" y="1715.90" width="1" height="147.10" fill="#a22d23"/>
<rect x="1413" y="1715.90" width="1" height="147.10" fill="#a22d23"/>
<rect x="1430" y="1699.80" width="12" height="163.20" fill="#ac3d32"/>
<rect x="1430" y="1699.80" width="1" height="163.20" fill="#a22d23"/>
<rect x="1441" y="1699.80" width="1" height="163.20" fill="#a22d23"/>
<rect x="1457" y="1638.00" width="12" height="225.00" fill="#ac3d32"/>
<rect x="1457" y="1638.00" width="1" height="225.00" fill="#a22d23"/>
<rect x="1468" y="1638.00" width="1" height="225.00" fill="#a22d23"/>
<rect x="1485" y="1640.10" width="12" height="222.90" fill="#ac3d32"/>
<rect x="1485" y="1640.10" width="1" height="222.90" fill="#a22d23"/>
<rect x="1496" y="1640.10" width="1" height="222.90" fill="#a22d23"/>
<rect x="1512" y="1678.30" width="12" height="184.70" fill="#ac3d32"/>
<rect x="1512" y="1678.30" width="1" height="184.70" fill="#a22d23"/>
<rect x="1523" y="1678.30" width="1" height="184.70" fill="#a22d23"/>
<rect x="1540" y="1660.10" width="12" height="202.90" fill="#ac3d32"/>
<rect x="1540" y="1660.10" width="1" height="202.90" fill="#a22d23"/>
<rect x="1551" y="1660.10" width="1" height="202.90" fill="#a22d23"/>
<rect x="1567" y="1676.30" width="12" height="186.70" fill="#ac3d32"/>
<rect x="1567" y="1676.30" width="1" height="186.70" fill="#a22d23"/>
<rect x="1578" y="1676.30" width="1" height="186.70" fill="#a22d23"/>
<rect x="1595" y="1668.10" width="12" height="194.90" fill="#ac3d32"/>
<rect x="1595" y="1668.10" width="1" height="194.90" fill="#a22d23"/>
<rect x="1606" y="1668.10" width="1" height="194.90" fill="#a22d23"/>
<rect x="1622" y="1674.00" width="12" height="189.00" fill="#ac3d32"/>
<rect x="1622" y="1674.00" width="1" height="189.00" fill="#a22d23"/>
<rect x="1633" y="1674.00" width="1" height="189.00" fill="#a22d23"/>
<rect x="1650" y="1650.00" width="12" height="213.00" fill="#ac3d32"/>
<rect x="1650" y="1650.00" width="1" height="213.00" fill="#a22d23"/>
<rect x="1661" y="1650.00" width="1" height="213.00" fill="#a22d23"/>
<rect x="1677" y="1598.10" width="12" height="264.90" fill="#ac3d32"/>
<rect x="1677" y="1598.10" width="1" height="264.90" fill="#a22d23"/>
<rect x="1688" y="1598.10" width="1" height="264.90" fill="#a22d23"/>
<rect x="1705" y="1680.00" width="12" height="183.00" fill="#ac3d32"/>
<rect x="1705" y="1680.00" width="1" height="183.00" fill="#a22d23"/>
<rect x="1716" y="1680.00" width="1" height="183.00" fill="#a22d23"/>
<rect x="1732" y="1695.90" width="12" height="167.10" fill="#ac3d32"/>
<rect x="1732" y="1695.90" width="1" height="167.10" fill="#a22d23"/>
<rect x="1743" y="1695.90" width="1" height="167.10" fill="#a22d23"/>
<rect x="1760" y="1641.90" width="12" height="221.10" fill="#ac3d32"/>
<rect x="1760" y="1641.90" width="1" height="221.10" fill="#a22d23"/>
<rect x="1771" y="1641.90" width="1" height="221.10" fill="#a22d23"/>
<rect x="1787" y="1711.90" width="12" height="151.10" fill="#ac3d32"/>
<rect x="1787" y="1711.90" width="1" height="151.10" fill="#a22d23"/>
<rect x="1798" y="1711.90" width="1" height="151.10" fill="#a22d23"/>
<rect x="1815" y="1658.10" width="12" height="204.90" fill="#ac3d32"/>
<rect x="1815" y="1658.10" width="1" height="204.90" fill="#a22d23"/>
<rect x="1826" y="1658.10" width="1" height="204.90" fill="#a22d23"/>
<rect x="1842" y="1678.00" width="12" height="185.00" fill="#ac3d32"/>
<rect x="1842" y="1678.00" width="1" height="185.00" fill="#a22d23"/>
<rect x="1853" y="1678.00" width="1" height="185.00" fill="#a22d23"/>
<rect x="1870" y="1669.90" width="12" height="193.10" fill="#ac3d32"/>
<rect x="1870" y="1669.90" width="1" height="193.10" fill="#a22d23"/>
<rect x="1881" y="1669.90" width="1" height="193.10" fill="#a22d23"/>
<rect x="1897" y="1651.90" width="12" height="211.10" fill="#ac3d32"/>
<rect x="1897" y="1651.90" width="1" height="211.10" fill="#a22d23"/>
<rect x="1908" y="1651.90" width="1" height="211.10" fill="#a22d23"/>
<rect x="1925" y="1588.00" width="12" height="275.00" fill="#ac3d32"/>
<rect x="1925" y="1588.00" width="1" height="275.00" fill="#a22d23"/>
<rect x="1936" y="1588.00" width="1" height="275.00" fill="#a22d23"/>
<rect x="1952" y="1686.10" width="12" height="176.90" fill="#ac3d32"/>
<rect x="1952" y="1686.10" width="1" height="176.90" fill="#a22d23"/>
<rect x="1963" y="1686.10" width="1" height="176.90" fill="#a22d23"/>
<rect x="1980" y="1680.00" width="12" height="183.00" fill="#ac3d32"/>
<rect x="1980" y="1680.00" width="1" height="183.00" fill="#a22d23"/>
<rect x="1991" y="1680.00" width="1" height="183.00" fill="#a22d23"/>
<rect x="2008" y="1669.90" width="12" height="193.10" fill="#ac3d32"/>
<rect x="2008" y="1669.90" width="1" height="193.10" fill="#a22d23"/>
<rect x="2019" y="1669.90" width="1" height="193.10" fill="#a22d23"/>
<rect x="2035" y="1651.90" width="12" height="211.10" fill="#ac3d32"/>
<rect x="2035" y="1651.90" width="1" height="211.10" fill="#a22d23"/>
<rect x="2046" y="1651.90" width="1" height="211.10" fill="#a22d23"/>
<rect x="2063" y="1757.90" width="12" height="105.10" fill="#ac3d32"/>
<rect x="2063" y="1757.90" width="1" height="105.10" fill="#a22d23"/>
<rect x="2074" y="1757.90" width="1" height="105.10" fill="#a22d23"/>
<rect x="2090" y="1616.00" width="12" height="247.00" fill="#ac3d32"/>
<rect x="2090" y="1616.00" width="1" height="247.00" fill="#a22d23"/>
<rect x="2101" y="1616.00" width="1" height="247.00" fill="#a22d23"/>
<rect x="2118" y="1683.90" width="12" height="179.10" fill="#ac3d32"/>
<rect x="2118" y="1683.90" width="1" height="179.10" fill="#a22d23"/>
<rect x="2129" y="1683.90" width="1" height="179.10" fill="#a22d23"/>
<rect x="2145" y="1653.90" width="12" height="209.10" fill="#ac3d32"/>
<rect x="2145" y="1653.90" width="1" height="209.10" fill="#a22d23"/>
<rect x="2156" y="1653.90" width="1" height="209.10" fill="#a22d23"/>
<rect x="2173" y="1644.00" width="12" height="219.00" fill="#ac3d32"/>
<rect x="2173" y="1644.00" width="1" height="219.00" fill="#a22d23"/>
<rect x="2184" y="1644.00" width="1" height="219.00" fill="#a22d23"/>
<rect x="2200" y="1653.90" width="12" height="209.10" fill="#ac3d32"/>
<rect x="2200" y="1653.90" width="1" height="209.10" fill="#a22d23"/>
<rect x="2211" y="1653.90" width="1" height="209.10" fill="#a22d23"/>
<rect x="2228" y="1578.10" width="12" height="284.90" fill="#ac3d32"/>
<rect x="2228" y="1578.10" width="1" height="284.90" fill="#a22d23"/>
<rect x="2239" y="1578.10" width="1" height="284.90" fill="#a22d23"/>
<line x1="228.0" y1="1143.00" x2="1140.0" y2="1143.00" stroke="#3d4451" stroke-width="2"/>
<line x1="326.00" y1="1143.00" x2="326.00" y2="1163.00" stroke="#3d4451" stroke-width="2"/>
<line x1="535.00" y1="1143.00" x2="535.00" y2="1163.00" stroke="#3d4451" stroke-width="2"/>
<line x1="744.00" y1="1143.00" x2="744.00" y2="1163.00" stroke="#3d4451" stroke-width="2"/>
<line x1="953.00" y1="1143.00" x2="953.00" y2="1163.00" stroke="#3d4451" stroke-width="2"/>
<line x1="1386.0" y1="1143.00" x2="2282.0" y2="1143.00" stroke="#3d4451" stroke-width="2"/>
<line x1="1483.00" y1="1143.00" x2="1483.00" y2="1163.00" stroke="#3d4451" stroke-width="2"/>
<line x1="1687.00" y1="1143.00" x2="1687.00" y2="1163.00" stroke="#3d4451" stroke-width="2"/>
<line x1="1892.00" y1="1143.00" x2="1892.00" y2="1163.00" stroke="#3d4451" stroke-width="2"/>
<line x1="2097.00" y1="1143.00" x2="2097.00" y2="1163.00" stroke="#3d4451" stroke-width="2"/>
<line x1="176.0" y1="1863.00" x2="1044.0" y2="1863.00" stroke="#3d4451" stroke-width="2"/>
<line x1="281.00" y1="1863.00" x2="281.00" y2="1883.00" stroke="#3d4451" stroke-width="2"/>
<line x1="473.00" y1="1863.00" x2="473.00" y2="1883.00" stroke="#3d4451" stroke-width="2"/>
<line x1="665.00" y1="1863.00" x2="665.00" y2="1883.00" stroke="#3d4451" stroke-width="2"/>
<line x1="856.00" y1="1863.00" x2="856.00" y2="1883.00" stroke="#3d4451" stroke-width="2"/>
<line x1="1386.0" y1="1863.00" x2="2256.0" y2="1863.00" stroke="#3d4451" stroke-width="2"/>
<line x1="1491.00" y1="1863.00" x2="1491.00" y2="1883.00" stroke="#3d4451" stroke-width="2"/>
<line x1="1683.00" y1="1863.00" x2="1683.00" y2="1883.00" stroke="#3d4451" stroke-width="2"/>
<line x1="1876.00" y1="1863.00" x2="1876.00" y2="1883.00" stroke="#3d4451" stroke-width="2"/>
<line x1="2069.00" y1="1863.00" x2="2069.00" y2="1883.00" stroke="#3d4451" stroke-width="2"/>
<polyline points="236.70,1001.20 266.53,970.70 296.36,949.70 326.19,966.90 356.02,931.20 385.85,1007.90 415.68,934.10 445.51,983.60 475.34,947.00 505.17,948.80 535.00,899.60 564.83,961.20 594.66,916.50 624.49,949.30 654.32,1015.80 684.15,973.00 713.98,1031.60 743.81,950.00 773.64,972.40 803.47,877.90 833.30,985.00 863.13,969.40 892.96,983.40 922.79,950.00 952.62,1056.40 982.45,938.50 1012.28,957.80 1042.11,1011.50 1071.94,952.80 1101.77,968.40 1131.60,970.00" fill="none" stroke="#3aa95d" stroke-width="4" stroke-linejoin="round" stroke-linecap="round"/>
<polyline points="1394.96,1119.70 1424.21,1031.00 1453.46,942.40 1482.70,1098.00 1511.95,1065.80 1541.20,949.30 1570.45,1002.60 1599.70,912.80 1628.94,983.90 1658.19,1027.50 1687.44,932.70 1716.69,1039.90 1745.94,1010.90 1775.18,991.20 1804.43,1078.30 1833.68,980.40 1862.93,1018.10 1892.18,1098.60 1921.42,1012.90 1950.67,819.00 1979.92,1094.50 2009.17,997.00 2038.42,1104.90 2067.66,869.90 2096.91,1034.30 2126.16,948.10 2155.41,1047.80 2184.66,930.00 2213.90,1040.60 2243.15,932.70 2272.40,866.30" fill="none" stroke="#0e77a0" stroke-width="4" stroke-linejoin="round" stroke-linecap="round"/>
<polyline points="1394.96,1058.10 1424.21,1038.90 1453.46,955.90 1482.70,958.40 1511.95,1009.40 1541.20,984.90 1570.45,1006.70 1599.70,995.30 1628.94,1004.20 1658.19,971.50 1687.44,902.80 1716.69,1011.50 1745.94,1034.30 1775.18,961.10 1804.43,1053.00 1833.68,982.40 1862.93,1007.80 1892.18,996.30 1921.42,973.50 1950.67,889.10 1979.92,1020.20 2009.17,1012.40 2038.42,998.50 2067.66,973.00 2096.91,1116.70 2126.16,926.50 2155.41,1015.70 2184.66,976.70 2213.90,963.80 2243.15,977.10 2272.40,875.50" fill="none" stroke="#ad3c31" stroke-width="4" stroke-linejoin="round" stroke-linecap="round"/>
<polyline points="198.60,1674.90 226.01,1734.40 253.42,1709.80 280.83,1560.30 308.24,1668.50 335.65,1730.60 363.06,1716.70 390.47,1759.00 417.88,1729.30 445.29,1660.90 472.70,1669.00 500.11,1694.40 527.52,1740.80 554.93,1680.60 582.34,1711.30 609.75,1709.70 637.16,1709.10 664.57,1613.40 691.98,1677.30 719.39,1722.90 746.80,1650.60 774.21,1728.50 801.62,1607.30 829.03,1761.60 856.44,1818.50 883.85,1680.00 911.26,1692.60 938.67,1735.30 966.08,1638.40 993.49,1734.70 1020.90,1689.40" fill="none" stroke="#e2ab1f" stroke-width="4" stroke-linejoin="round" stroke-linecap="round"/>
<polyline points="1408.10,1688.00 1435.62,1656.30 1463.14,1715.60 1490.66,1738.00 1518.18,1629.80 1545.70,1776.20 1573.22,1638.00 1600.74,1729.20 1628.26,1662.00 1655.78,1700.30 1683.30,1698.80 1710.82,1676.90 1738.34,1565.20 1765.86,1710.60 1793.38,1723.70 1820.90,1725.90 1848.42,1794.40 1875.94,1675.10 1903.46,1732.50 1930.98,1685.00 1958.50,1706.20 1986.02,1689.40 2013.54,1727.70 2041.06,1701.00 2068.58,1728.80 2096.10,1725.90 2123.62,1666.40 2151.14,1787.20 2178.66,1714.30 2206.18,1723.90 2233.70,1793.50" fill="none" stroke="#bcbcbc" stroke-width="4" stroke-linejoin="round" stroke-linecap="round"/>
<line x1="126.4" y1="749.8" x2="157.7" y2="749.8" stroke="#3aa95d" stroke-width="4" stroke-linecap="round"/>
<line x1="1336.4" y1="749.8" x2="1367.7" y2="749.8" stroke="#0e77a0" stroke-width="4" stroke-linecap="round"/>
<line x1="1566.3" y1="749.8" x2="1597.6" y2="749.8" stroke="#ad3c31" stroke-width="4" stroke-linecap="round"/>
<circle cx="141.9" cy="1468.4" r="13" fill="#08749e"/>
<line x1="356.4" y1="1469.6" x2="387.7" y2="1469.6" stroke="#e2ab1f" stroke-width="4" stroke-linecap="round"/>
<circle cx="1352" cy="1468.2" r="13" fill="#ac3d32"/>
<line x1="1491.0" y1="1469.7" x2="1522.0" y2="1469.7" stroke="#bcbcbc" stroke-width="4" stroke-linecap="round"/>
<line x1="1100" y1="659" x2="1128" y2="659" stroke="#666" stroke-width="6" stroke-linecap="round"/>
<line x1="1100" y1="669" x2="1128" y2="669" stroke="#666" stroke-width="6" stroke-linecap="round"/>
<line x1="1100" y1="679" x2="1128" y2="679" stroke="#666" stroke-width="6" stroke-linecap="round"/>
<line x1="2310" y1="659" x2="2338" y2="659" stroke="#666" stroke-width="6" stroke-linecap="round"/>
<line x1="2310" y1="669" x2="2338" y2="669" stroke="#666" stroke-width="6" stroke-linecap="round"/>
<line x1="2310" y1="679" x2="2338" y2="679" stroke="#666" stroke-width="6" stroke-linecap="round"/>
<line x1="1100" y1="1379" x2="1128" y2="1379" stroke="#666" stroke-width="6" stroke-linecap="round"/>
<line x1="1100" y1="1389" x2="1128" y2="1389" stroke="#666" stroke-width="6" stroke-linecap="round"/>
<line x1="1100" y1="1399" x2="1128" y2="1399" stroke="#666" stroke-width="6" stroke-linecap="round"/>
<line x1="2310" y1="1379" x2="2338" y2="1379" stroke="#666" stroke-width="6" stroke-linecap="round"/>
<line x1="2310" y1="1389" x2="2338" y2="1389" stroke="#666" stroke-width="6" stroke-linecap="round"/>
<line x1="2310" y1="1399" x2="2338" y2="1399" stroke="#666" stroke-width="6" stroke-linecap="round"/>
</svg>
</body></html>
